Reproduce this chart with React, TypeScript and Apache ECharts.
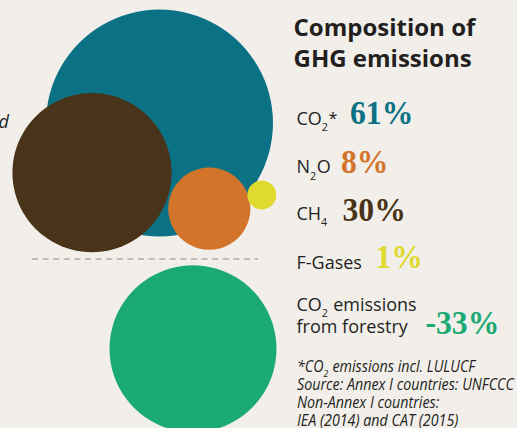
import React, { useEffect, useRef } from "react";
import * as echarts from "echarts";

// ---- data ----
const gasNames = ["CO2*", "N2O", "CH4", "F-Gases"];
const gasShares = [61, 8, 30, 1];
const forestryName = "CO2 emissions from forestry";
const forestryShare = -33;
const titleLines = ["Composition of", "GHG emissions"];
const noteLines = [
  "*CO2 emissions incl. LULUCF",
  "Source: Annex I countries: UNFCCC",
  "Non-Annex I countries:",
  "IEA (2014) and CAT (2015)",
];

// ---- styles / layout ----
const BG = "#f2efeb";
const INK = "#231f20";
const gasColors = ["#0b7285", "#d2752b", "#4a3419", "#e0d930"];
const forestryColor = "#1caa74";
// bubble centres (layout) in pixel space, order matches gasNames
const gasCenters: [number, number][] = [
  [159.5, 123],
  [209.3, 208.7],
  [92, 172.7],
  [261.8, 195],
];
const forestryCenter: [number, number] = [193, 348.8];
const RADIUS_K = 14.53; // px per sqrt(%)
const drawOrder = [0, 2, 1, 3];

type Seg = { t: string; k?: "sub" | "sup" };
const gasLabelSegs: Seg[][] = [
  [{ t: "CO" }, { t: "2", k: "sub" }, { t: "*", k: "sup" }],
  [{ t: "N" }, { t: "2", k: "sub" }, { t: "O" }],
  [{ t: "CH" }, { t: "4", k: "sub" }],
  [{ t: "F-Gases" }],
];
const gasBaselines = [124.5, 173.3, 219.5, 268.5];
const gasPctX = [350, 341, 342.5, 375.5];
const gasPctBaselines = [124.3, 172.7, 221, 268];

const SANS = '"Open Sans"';
const SERIF = '"Liberation Serif"';
const PCT_SIZE = 33;
const PCT_SCALE = 0.96;

let measureCtx: CanvasRenderingContext2D | null = null;
function textWidth(text: string, font: string) {
  if (!measureCtx) measureCtx = document.createElement("canvas").getContext("2d");
  measureCtx!.font = font;
  return measureCtx!.measureText(text).width;
}

function textEl(
  text: string,
  x: number,
  baseline: number,
  size: number,
  opts: {
    family?: string;
    weight?: string;
    italic?: boolean;
    color?: string;
    central?: number;
    scaleX?: number;
  } = {}
) {
  const family = opts.family || SANS;
  const central = opts.central ?? 0.388;
  return {
    type: "text",
    x,
    y: baseline - central * size,
    scaleX: opts.scaleX ?? 1,
    silent: true,
    style: {
      text,
      fontSize: size,
      fontFamily: family,
      fontWeight: opts.weight || "normal",
      fontStyle: opts.italic ? "italic" : "normal",
      fill: opts.color || INK,
      align: "left",
      verticalAlign: "middle",
    },
  };
}

function segLine(
  segs: Seg[],
  x: number,
  baseline: number,
  size: number,
  italic = false,
  scaleX = 1
) {
  const els: any[] = [];
  let cx = x;
  for (const s of segs) {
    let fs = size;
    let bl = baseline;
    if (s.k === "sub") {
      fs = size * 0.6;
      bl = baseline + size * 0.36;
    } else if (s.k === "sup") {
      fs = size * 0.9;
    }
    const font = `${italic ? "italic " : ""}normal ${fs}px ${SANS}`;
    let t = s.t;
    const lead = t.match(/^\s+/);
    if (lead) {
      cx += textWidth(lead[0], font) * scaleX;
      t = t.slice(lead[0].length);
    }
    els.push(textEl(t, cx, bl, fs, { italic, scaleX }));
    cx += textWidth(t, font) * scaleX;
    if (s.k === "sub") cx += size * 0.03;
  }
  return { els, end: cx };
}

function splitSub(label: string): Seg[] {
  const m = label.match(/^(.*?CO)2(.*)$/);
  if (!m) return [{ t: label }];
  return [{ t: m[1] }, { t: "2", k: "sub" }, { t: m[2] }];
}

export default function App() {
  const ref = useRef<HTMLDivElement>(null);
  useEffect(() => {
    if (!ref.current) return;
    const chart = echarts.init(ref.current, null, { renderer: "svg" });

    const graphics: any[] = [];
    // cut-off word at left edge
    graphics.push(textEl("d", -1.5, 128, 18, { italic: true }));
    // dashed divider
    graphics.push({
      type: "line",
      silent: true,
      shape: { x1: 32, y1: 259, x2: 258, y2: 259 },
      style: { stroke: "#b5aaa3", lineWidth: 1.7, lineDash: [6, 4.6] },
    });
    // title
    const titleBaselines = [35.7, 66.7];
    titleLines.forEach((t, i) =>
      graphics.push(textEl(t, 293.5, titleBaselines[i], 24, { weight: "bold" }))
    );
    // gas labels + percentages
    gasNames.forEach((_, i) => {
      graphics.push(...segLine(gasLabelSegs[i], 296.5, gasBaselines[i], 18).els);
      graphics.push(
        textEl(`${gasShares[i]}%`, gasPctX[i], gasPctBaselines[i], PCT_SIZE, {
          family: SERIF,
          weight: "bold",
          color: gasColors[i],
          central: 0.3375,
          scaleX: PCT_SCALE,
        })
      );
    });
    // forestry label
    const fw = forestryName.split(" from ");
    graphics.push(...segLine(splitSub(fw[0]), 296.5, 310.5, 18).els);
    graphics.push(textEl("from " + fw[1], 296.5, 333, 18));
    graphics.push(
      textEl(`${forestryShare}%`, 425.5, 334, PCT_SIZE, {
        family: SERIF,
        weight: "bold",
        color: forestryColor,
        central: 0.3375,
        scaleX: PCT_SCALE,
      })
    );
    // notes (condensed italic)
    const NOTE_SIZE = 16;
    const noteScale =
      217 / textWidth(noteLines[1], `italic normal ${NOTE_SIZE}px ${SANS}`);
    const noteBaselines = [371.7, 389.5, 408.3, 426.3];
    noteLines.forEach((t, i) => {
      graphics.push(
        ...segLine(splitSub(t), 297, noteBaselines[i], NOTE_SIZE, true, noteScale).els
      );
    });

    const bubbleData = drawOrder.map((i) => ({
      value: [gasCenters[i][0], gasCenters[i][1], gasShares[i]],
      name: gasNames[i],
      itemStyle: { color: gasColors[i] },
    }));
    bubbleData.push({
      value: [forestryCenter[0], forestryCenter[1], Math.abs(forestryShare)],
      name: forestryName,
      itemStyle: { color: forestryColor },
    });

    chart.setOption({
      animation: false,
      backgroundColor: BG,
      grid: { left: 0, right: 0, top: 0, bottom: 0 },
      xAxis: { type: "value", min: 0, max: 517, show: false },
      yAxis: { type: "value", min: 0, max: 428, inverse: true, show: false },
      series: [
        {
          type: "scatter",
          silent: true,
          symbol: "circle",
          symbolSize: (v: number[]) => 2 * RADIUS_K * Math.sqrt(v[2]),
          itemStyle: { opacity: 1 },
          emphasis: { disabled: true },
          data: bubbleData,
        },
      ],
      graphic: { elements: graphics },
    });
    return () => chart.dispose();
  }, []);
  return (
    <div
      ref={ref}
      style={{ position: "fixed", left: 0, top: 0, width: 517, height: 428, background: BG }}
    />
  );
}
